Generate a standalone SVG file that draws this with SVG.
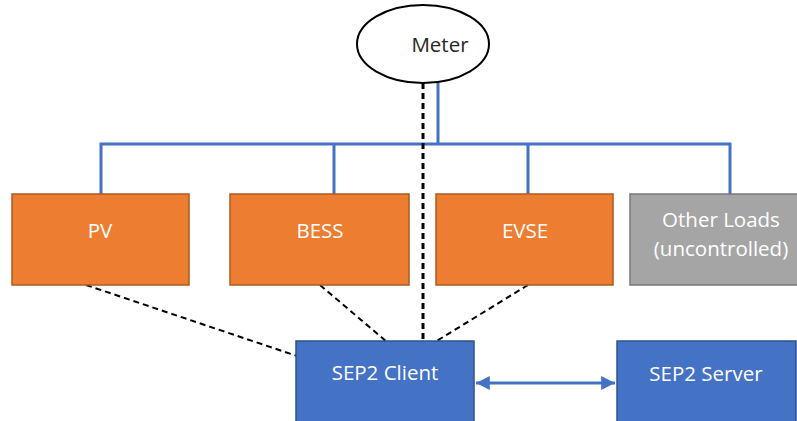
<svg xmlns="http://www.w3.org/2000/svg" width="797" height="421" viewBox="0 0 797 421">
<style>
.t{font-family:"Open Sans","Liberation Sans",sans-serif;font-size:20.5px;fill:#fff;text-anchor:middle;dominant-baseline:central}
.o{fill:#ED7D31;stroke:#AE5A21;stroke-width:1.5}
.b{fill:#4472C4;stroke:#2F528F;stroke-width:1.5}
.g{fill:#A5A5A5;stroke:#787878;stroke-width:1.5}
.bus{fill:none;stroke:#4472C4;stroke-width:3}
.d{stroke:#000;stroke-width:2;stroke-dasharray:6,4;fill:none}
</style>
<defs>
<marker id="ah" viewBox="0 0 10 10" refX="10" refY="5" markerWidth="4.6" markerHeight="4.6" orient="auto-start-reverse"><path d="M0,0L10,5L0,10z" fill="#4472C4"/></marker>
</defs>
<g id="connectors">
<path class="bus" d="M438,83V144M101,194V144H730V194M334,144V194M528,144V194"/>
<path class="d" d="M423,83V341" style="stroke-width:3"/>
<path class="d" d="M86,285L297,356"/>
<path class="d" d="M320,285L387,342"/>
<path class="d" d="M528,285L435,342"/>
<path d="M476,383H615" stroke="#4472C4" stroke-width="3" marker-start="url(#ah)" marker-end="url(#ah)"/>
</g>
<g id="meter"><ellipse cx="423" cy="44" rx="66" ry="39" fill="#fff" stroke="#000" stroke-width="2"/><text class="t" x="440" y="44" style="fill:#262626">Meter</text></g>
<g id="pv"><rect class="o" x="12" y="194" width="177" height="91"/><text class="t" x="100" y="230">PV</text></g>
<g id="bess"><rect class="o" x="230" y="194" width="179" height="91"/><text class="t" x="320" y="230">BESS</text></g>
<g id="evse"><rect class="o" x="436" y="194" width="177" height="91"/><text class="t" x="525" y="230">EVSE</text></g>
<g id="other"><rect class="g" x="630" y="194" width="180" height="91"/><text class="t" x="721" y="219">Other Loads</text><text class="t" x="721" y="248">(uncontrolled)</text></g>
<g id="client"><rect class="b" x="296" y="341" width="178" height="90"/><text class="t" x="385" y="372">SEP2 Client</text></g>
<g id="server"><rect class="b" x="617" y="341" width="179" height="90"/><text class="t" x="706" y="373">SEP2 Server</text></g>
</svg>
